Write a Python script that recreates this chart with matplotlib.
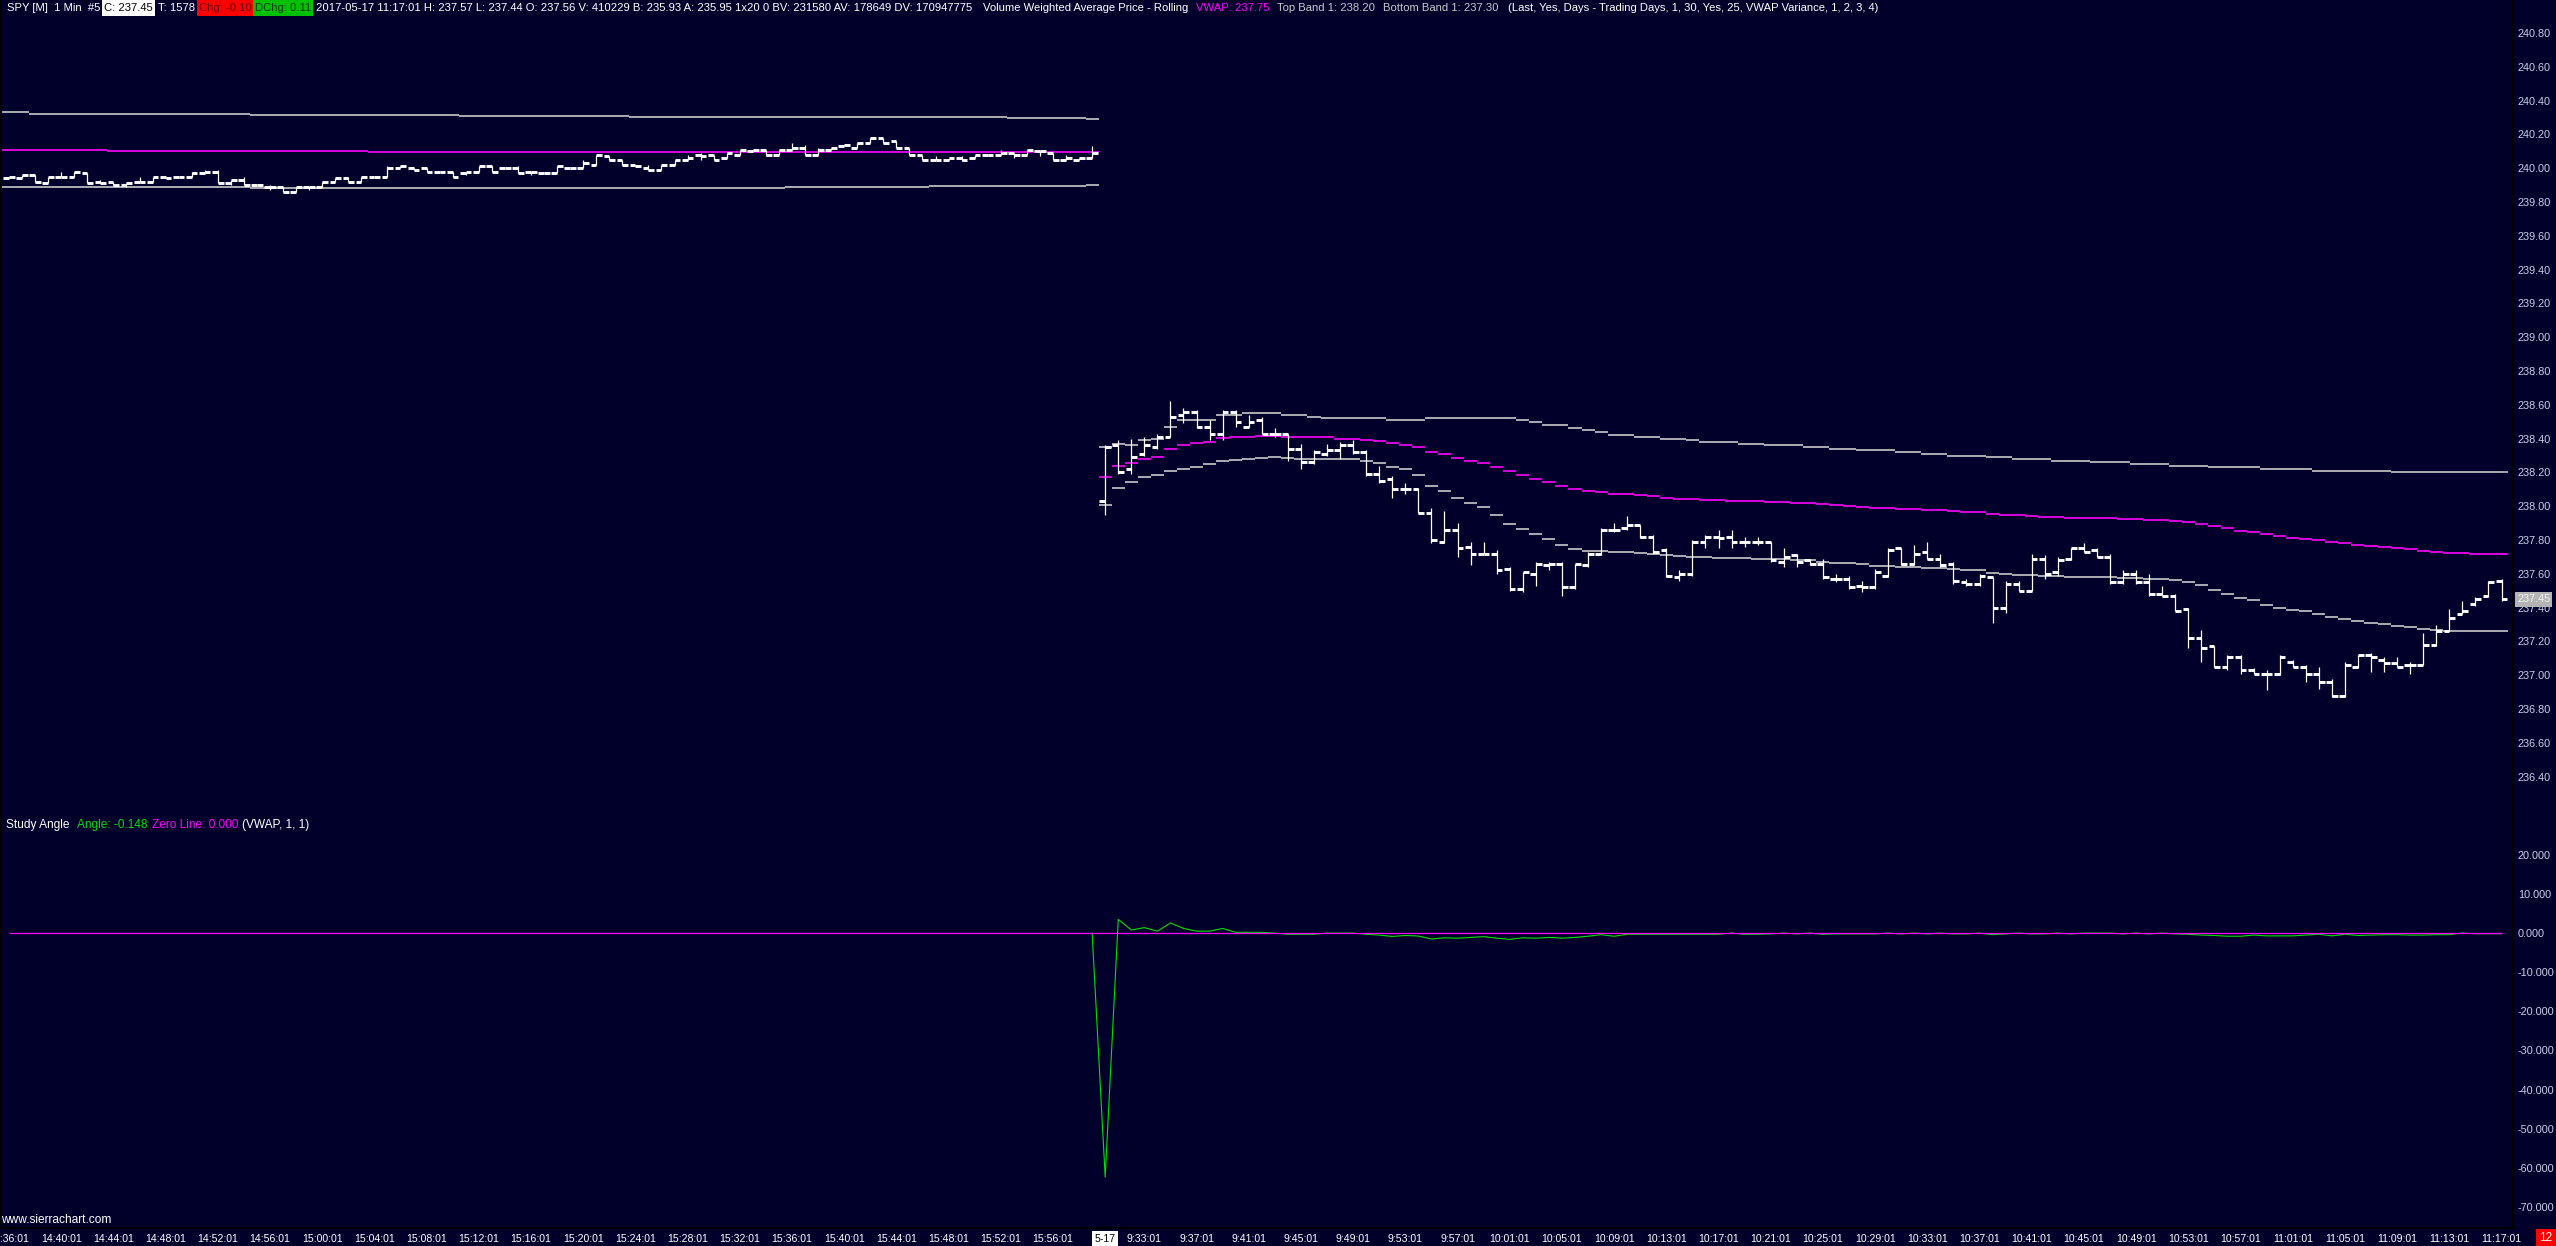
import matplotlib
matplotlib.use("Agg")
import matplotlib.pyplot as plt
from matplotlib.collections import LineCollection
from matplotlib.patches import Rectangle
from matplotlib.transforms import blended_transform_factory
import numpy as np

# SPY 1 min bars, 2017-05-16 14:36 .. 15:59
prev_open = [239.94, 239.94, 239.96, 239.91, 239.95, 239.95, 239.97, 239.92, 239.92, 239.90, 239.92, 239.92,
             239.95, 239.95, 239.95, 239.97, 239.98, 239.91, 239.93, 239.90, 239.89, 239.89, 239.86, 239.89,
             239.89, 239.92, 239.94, 239.92, 239.95, 239.95, 240.00, 240.00, 240.00, 239.98, 239.98, 239.97,
             239.98, 240.01, 240.00, 240.00, 239.98, 239.97, 239.97, 240.00, 240.00, 240.02, 240.07, 240.05,
             240.02, 240.00, 239.99, 240.02, 240.05, 240.08, 240.08, 240.06, 240.08, 240.10, 240.11, 240.08,
             240.11, 240.12, 240.08, 240.11, 240.13, 240.12, 240.15, 240.18, 240.16, 240.12, 240.08, 240.05,
             240.05, 240.06, 240.06, 240.08, 240.08, 240.09, 240.08, 240.10, 240.09, 240.05, 240.05, 240.06]
prev_high = [239.95, 239.96, 239.96, 239.95, 239.98, 239.98, 239.97, 239.93, 239.92, 239.91, 239.95, 239.95,
             239.95, 239.95, 239.98, 239.99, 239.99, 239.93, 239.95, 239.90, 239.90, 239.89, 239.89, 239.89,
             239.92, 239.94, 239.95, 239.95, 239.95, 240.01, 240.01, 240.00, 240.00, 239.98, 239.98, 239.98,
             240.01, 240.01, 240.00, 240.01, 239.98, 239.97, 240.01, 240.00, 240.05, 240.08, 240.07, 240.05,
             240.02, 240.02, 240.02, 240.05, 240.08, 240.09, 240.08, 240.09, 240.11, 240.11, 240.11, 240.11,
             240.15, 240.14, 240.12, 240.12, 240.14, 240.15, 240.18, 240.18, 240.16, 240.12, 240.08, 240.07,
             240.06, 240.07, 240.08, 240.08, 240.11, 240.09, 240.11, 240.10, 240.09, 240.08, 240.06, 240.13]
prev_low = [239.94, 239.94, 239.92, 239.91, 239.95, 239.95, 239.91, 239.91, 239.90, 239.89, 239.92, 239.92,
            239.94, 239.95, 239.95, 239.97, 239.91, 239.90, 239.90, 239.90, 239.87, 239.86, 239.86, 239.87,
            239.89, 239.92, 239.92, 239.92, 239.95, 239.95, 240.00, 239.99, 239.98, 239.98, 239.95, 239.96,
            239.98, 239.98, 240.00, 239.97, 239.96, 239.97, 239.97, 240.00, 240.00, 240.02, 240.05, 240.02,
            240.01, 239.99, 239.99, 240.02, 240.05, 240.05, 240.05, 240.06, 240.08, 240.10, 240.07, 240.08,
            240.11, 240.08, 240.08, 240.11, 240.13, 240.12, 240.15, 240.15, 240.12, 240.08, 240.05, 240.05,
            240.05, 240.04, 240.06, 240.07, 240.08, 240.06, 240.08, 240.07, 240.05, 240.05, 240.05, 240.06]
prev_close = [239.95, 239.96, 239.92, 239.95, 239.95, 239.98, 239.91, 239.91, 239.90, 239.91, 239.92, 239.95,
              239.94, 239.95, 239.97, 239.98, 239.91, 239.93, 239.90, 239.90, 239.89, 239.86, 239.89, 239.89,
              239.92, 239.94, 239.92, 239.95, 239.95, 240.00, 240.01, 239.99, 239.98, 239.98, 239.95, 239.98,
              240.01, 239.98, 240.00, 239.97, 239.98, 239.97, 240.01, 240.00, 240.03, 240.08, 240.05, 240.02,
              240.01, 239.99, 240.02, 240.05, 240.06, 240.07, 240.05, 240.09, 240.11, 240.11, 240.08, 240.11,
              240.12, 240.08, 240.11, 240.12, 240.14, 240.15, 240.18, 240.15, 240.12, 240.08, 240.05, 240.05,
              240.06, 240.05, 240.08, 240.08, 240.09, 240.08, 240.11, 240.10, 240.05, 240.06, 240.06, 240.09]

# 2017-05-17 9:30 .. 11:17
cur_open = [238.03, 238.36, 238.22, 238.31, 238.35, 238.41, 238.54, 238.56, 238.47, 238.43, 238.56, 238.47,
            238.51, 238.43, 238.43, 238.34, 238.26, 238.31, 238.33, 238.36, 238.32, 238.19, 238.16, 238.10,
            238.10, 237.96, 237.79, 237.86, 237.76, 237.72, 237.72, 237.63, 237.51, 237.60, 237.65, 237.66,
            237.52, 237.65, 237.72, 237.86, 237.87, 237.89, 237.82, 237.74, 237.58, 237.60, 237.79, 237.82,
            237.82, 237.79, 237.79, 237.79, 237.67, 237.71, 237.68, 237.66, 237.57, 237.57, 237.53, 237.52,
            237.59, 237.75, 237.66, 237.73, 237.69, 237.66, 237.55, 237.54, 237.58, 237.40, 237.54, 237.50,
            237.69, 237.61, 237.69, 237.75, 237.74, 237.70, 237.55, 237.60, 237.55, 237.48, 237.47, 237.39,
            237.22, 237.17, 237.05, 237.11, 237.03, 237.01, 237.01, 237.08, 237.05, 237.01, 236.96, 236.88,
            237.05, 237.12, 237.09, 237.07, 237.06, 237.06, 237.18, 237.26, 237.36, 237.42, 237.47, 237.56]
cur_high = [238.36, 238.39, 238.40, 238.41, 238.43, 238.62, 238.58, 238.57, 238.51, 238.57, 238.57, 238.54,
            238.53, 238.46, 238.43, 238.37, 238.33, 238.37, 238.38, 238.39, 238.33, 238.24, 238.18, 238.14,
            238.11, 237.99, 237.97, 237.90, 237.79, 237.79, 237.74, 237.64, 237.61, 237.67, 237.67, 237.67,
            237.66, 237.73, 237.87, 237.90, 237.94, 237.89, 237.83, 237.75, 237.62, 237.80, 237.83, 237.86,
            237.86, 237.82, 237.82, 237.79, 237.75, 237.72, 237.69, 237.69, 237.60, 237.59, 237.56, 237.63,
            237.75, 237.75, 237.77, 237.79, 237.72, 237.67, 237.57, 237.60, 237.58, 237.56, 237.56, 237.72,
            237.71, 237.70, 237.75, 237.78, 237.75, 237.72, 237.62, 237.62, 237.60, 237.53, 237.48, 237.40,
            237.27, 237.17, 237.12, 237.12, 237.04, 237.03, 237.12, 237.09, 237.06, 237.05, 236.98, 237.08,
            237.12, 237.13, 237.11, 237.11, 237.08, 237.25, 237.30, 237.39, 237.44, 237.46, 237.56, 237.57]
cur_low = [237.95, 238.19, 238.19, 238.30, 238.34, 238.41, 238.49, 238.46, 238.39, 238.39, 238.47, 238.47,
           238.43, 238.41, 238.27, 238.22, 238.25, 238.30, 238.28, 238.31, 238.18, 238.14, 238.05, 238.07,
           237.96, 237.78, 237.78, 237.70, 237.65, 237.72, 237.60, 237.50, 237.49, 237.53, 237.62, 237.47,
           237.51, 237.64, 237.71, 237.85, 237.86, 237.81, 237.72, 237.58, 237.56, 237.59, 237.75, 237.75,
           237.75, 237.76, 237.77, 237.67, 237.64, 237.64, 237.65, 237.57, 237.55, 237.51, 237.49, 237.51,
           237.58, 237.65, 237.65, 237.69, 237.64, 237.54, 237.53, 237.53, 237.31, 237.37, 237.50, 237.50,
           237.57, 237.59, 237.68, 237.73, 237.70, 237.54, 237.54, 237.54, 237.47, 237.47, 237.38, 237.16,
           237.08, 237.05, 237.03, 237.01, 237.01, 236.91, 237.00, 237.05, 236.96, 236.92, 236.87, 236.87,
           237.04, 237.02, 237.02, 237.05, 237.01, 237.06, 237.17, 237.26, 237.36, 237.41, 237.46, 237.44]
cur_close = [238.35, 238.20, 238.29, 238.36, 238.41, 238.53, 238.56, 238.47, 238.43, 238.56, 238.50, 238.50,
             238.43, 238.43, 238.34, 238.26, 238.32, 238.33, 238.36, 238.32, 238.19, 238.15, 238.10, 238.10,
             237.96, 237.80, 237.86, 237.75, 237.72, 237.72, 237.62, 237.51, 237.61, 237.66, 237.66, 237.52,
             237.66, 237.72, 237.86, 237.86, 237.89, 237.82, 237.73, 237.59, 237.60, 237.79, 237.82, 237.81,
             237.79, 237.79, 237.79, 237.68, 237.70, 237.67, 237.66, 237.58, 237.57, 237.52, 237.52, 237.61,
             237.74, 237.66, 237.72, 237.69, 237.65, 237.56, 237.54, 237.59, 237.40, 237.54, 237.50, 237.69,
             237.60, 237.68, 237.75, 237.73, 237.70, 237.55, 237.60, 237.55, 237.48, 237.47, 237.38, 237.22,
             237.16, 237.05, 237.11, 237.03, 237.01, 237.01, 237.11, 237.05, 237.01, 236.96, 236.88, 237.06,
             237.12, 237.11, 237.07, 237.05, 237.06, 237.18, 237.26, 237.34, 237.38, 237.45, 237.55, 237.45]

# rolling VWAP and bands, one value per bar
prev_top = [240.33] * 2 + [240.32] * 17 + [240.315] * 16 + [240.31] * 13 + [240.305] * 17 + [240.30] * 12 + [240.295] * 6 + [240.29]
prev_vwap = [240.11] * 8 + [240.10] * 20 + [240.095] * 56
prev_bot = [239.89] * 19 + [239.883] * 41 + [239.889] * 11 + [239.895] * 12 + [239.90]

cur_top = [238.35, 238.37, 238.36, 238.39, 238.40, 238.47, 238.51, 238.51, 238.51, 238.54, 238.54, 238.55,
           238.55, 238.55, 238.54, 238.54, 238.53, 238.52, 238.52, 238.52, 238.52, 238.52, 238.51, 238.51,
           238.51, 238.52, 238.52, 238.52, 238.52, 238.52, 238.52, 238.52, 238.51, 238.50, 238.48, 238.48,
           238.46, 238.45, 238.44, 238.42, 238.42, 238.41, 238.41, 238.40, 238.40, 238.39, 238.38, 238.38,
           238.38, 238.37, 238.37, 238.36, 238.36, 238.36, 238.35, 238.35, 238.34, 238.34, 238.33, 238.33,
           238.33, 238.32, 238.32, 238.31, 238.31, 238.30, 238.30, 238.30, 238.29, 238.29, 238.28, 238.28,
           238.28, 238.27, 238.27, 238.27, 238.26, 238.26, 238.26, 238.25, 238.25, 238.25, 238.24, 238.24,
           238.24, 238.23, 238.23, 238.23, 238.23, 238.22, 238.22, 238.22, 238.22, 238.21, 238.21, 238.21,
           238.21, 238.21, 238.21, 238.20, 238.20, 238.20, 238.20, 238.20, 238.20, 238.20, 238.20, 238.20]
cur_vwap = [238.175, 238.238, 238.258, 238.282, 238.293, 238.341, 238.365, 238.376, 238.382, 238.406, 238.412, 238.412,
            238.418, 238.418, 238.408, 238.408, 238.408, 238.408, 238.400, 238.400, 238.394, 238.388, 238.372, 238.365,
            238.353, 238.323, 238.311, 238.288, 238.270, 238.258, 238.234, 238.211, 238.187, 238.163, 238.146, 238.122,
            238.104, 238.092, 238.084, 238.075, 238.075, 238.069, 238.059, 238.051, 238.045, 238.041, 238.039, 238.039,
            238.033, 238.033, 238.033, 238.027, 238.027, 238.021, 238.021, 238.013, 238.007, 238.001, 237.996, 237.990,
            237.990, 237.984, 237.984, 237.978, 237.978, 237.972, 237.966, 237.966, 237.954, 237.948, 237.948, 237.942,
            237.936, 237.936, 237.930, 237.930, 237.930, 237.930, 237.925, 237.925, 237.919, 237.919, 237.913, 237.905,
            237.895, 237.885, 237.871, 237.856, 237.848, 237.836, 237.824, 237.812, 237.804, 237.800, 237.788, 237.783,
            237.773, 237.765, 237.759, 237.753, 237.745, 237.737, 237.731, 237.725, 237.725, 237.720, 237.720, 237.720]
cur_bot = [238.010, 238.110, 238.146, 238.175, 238.187, 238.211, 238.223, 238.234, 238.252, 238.270, 238.276, 238.282,
           238.288, 238.293, 238.288, 238.282, 238.282, 238.282, 238.282, 238.282, 238.270, 238.258, 238.234, 238.223,
           238.187, 238.122, 238.092, 238.051, 238.021, 237.998, 237.950, 237.897, 237.868, 237.838, 237.808, 237.773,
           237.749, 237.737, 237.737, 237.731, 237.731, 237.725, 237.720, 237.714, 237.708, 237.702, 237.702, 237.696,
           237.696, 237.696, 237.690, 237.690, 237.690, 237.682, 237.682, 237.670, 237.664, 237.664, 237.656, 237.648,
           237.648, 237.643, 237.643, 237.637, 237.637, 237.629, 237.623, 237.623, 237.607, 237.601, 237.595, 237.595,
           237.589, 237.589, 237.583, 237.583, 237.583, 237.583, 237.577, 237.577, 237.572, 237.572, 237.566, 237.554,
           237.536, 237.506, 237.483, 237.459, 237.447, 237.418, 237.400, 237.388, 237.382, 237.364, 237.347, 237.335,
           237.323, 237.311, 237.305, 237.293, 237.287, 237.276, 237.270, 237.264, 237.264, 237.260, 237.260, 237.260]

# Study Angle of the VWAP, from the last bar of 5-16 on
angle_first_bar = 83
angle = [0.0, -62.4, 3.5, 0.8, 1.4, 0.5, 2.6, 1.2, 0.5, 0.5, 1.2, 0.2,
         0.2, 0.2, 0.0, -0.3, -0.3, -0.3, 0.0, 0.0, 0.0, -0.3, -0.5, -0.85,
         -0.6, -0.75, -1.5, -1.2, -1.3, -1.1, -0.9, -1.3, -1.6, -1.2, -1.3, -1.1,
         -1.3, -1.1, -0.8, -0.4, -0.8, -0.3, -0.3, -0.3, -0.3, -0.3, -0.3, -0.3,
         -0.3, 0.0, -0.3, -0.3, -0.2, 0.0, -0.2, 0.0, -0.3, -0.2, -0.2, -0.2,
         -0.2, 0.0, -0.2, 0.0, -0.2, 0.0, -0.2, -0.2, 0.0, -0.4, -0.2, 0.0,
         -0.2, -0.2, 0.0, -0.2, 0.0, 0.0, 0.0, -0.2, 0.0, -0.2, 0.0, -0.2,
         -0.3, -0.5, -0.6, -0.8, -0.8, -0.5, -0.7, -0.7, -0.7, -0.5, -0.3, -0.7,
         -0.3, -0.6, -0.5, -0.4, -0.4, -0.5, -0.5, -0.4, -0.4, 0.0, -0.15, -0.15,
         -0.148]

time_labels = ["14:36:01", "14:40:01", "14:44:01", "14:48:01", "14:52:01", "14:56:01", "15:00:01",
               "15:04:01", "15:08:01", "15:12:01", "15:16:01", "15:20:01", "15:24:01", "15:28:01",
               "15:32:01", "15:36:01", "15:40:01", "15:44:01", "15:48:01", "15:52:01", "15:56:01",
               "5-17",
               "9:33:01", "9:37:01", "9:41:01", "9:45:01", "9:49:01", "9:53:01", "9:57:01",
               "10:01:01", "10:05:01", "10:09:01", "10:13:01", "10:17:01", "10:21:01", "10:25:01",
               "10:29:01", "10:33:01", "10:37:01", "10:41:01", "10:45:01", "10:49:01", "10:53:01",
               "10:57:01", "11:01:01", "11:05:01", "11:09:01", "11:13:01", "11:17:01"]
label_bars = list(range(0, 84, 4)) + [84] + list(range(87, 192, 4))

price_ticks = np.round(np.arange(236.40, 240.81, 0.20), 2)
angle_ticks = [20, 10, 0, -10, -20, -30, -40, -50, -60, -70]

opn = np.array(prev_open + cur_open)
hig = np.array(prev_high + cur_high)
low = np.array(prev_low + cur_low)
cls = np.array(prev_close + cur_close)
top_band = np.array(prev_top + cur_top)
vwap = np.array(prev_vwap + cur_vwap)
bot_band = np.array(prev_bot + cur_bot)
idx = np.arange(len(opn))

BG = "#00002a"
WHITE = "#ffffff"
GREY = "#c8c8c8"
MAG = "#ff00ff"
GREEN = "#00e000"
AXTXT = "#c8d0e8"

W, H = 2556, 1246
PR = 2513          # right edge of the chart area, px
P_BOT = 815        # bottom of price region, px
S_BOT = 1228       # bottom of study region, px

plt.rcParams['font.family'] = ['Liberation Sans', 'DejaVu Sans']
plt.rcParams['axes.unicode_minus'] = False

fig = plt.figure(figsize=(W / 100, H / 100), dpi=100, facecolor=BG)
ax = fig.add_axes([0, 1 - P_BOT / H, PR / W, P_BOT / H])
ax2 = fig.add_axes([0, 1 - S_BOT / H, PR / W, (S_BOT - P_BOT) / H])

for a in (ax, ax2):
    a.set_facecolor(BG)
    a.set_xlim(-0.69, 191.88)
    for s in a.spines.values():
        s.set_color("black")
        s.set_linewidth(1.5)
    a.spines['top'].set_visible(False)
    a.set_xticks([])
    a.yaxis.tick_right()
    a.tick_params(axis='y', length=0, pad=3.6, labelsize=7.8, labelcolor=AXTXT)
ax.spines['bottom'].set_visible(False)

# price region
ax.set_ylim(236.173, 240.995)
ax.set_yticks(price_ticks)
ax.set_yticklabels(["%.2f" % v for v in price_ticks])

ax.hlines(top_band, idx - 0.5, idx + 0.5, color=GREY, lw=1.2, zorder=2)
ax.hlines(bot_band, idx - 0.5, idx + 0.5, color=GREY, lw=1.2, zorder=2)
ax.hlines(vwap, idx - 0.5, idx + 0.5, color=MAG, lw=1.2, zorder=2)

wicks = [[(i, lo), (i, hi)] for i, lo, hi in zip(idx, low, hig)]
ticks = [[(i - 0.44, o), (i, o)] for i, o in zip(idx, opn)] + \
        [[(i, c), (i + 0.44, c)] for i, c in zip(idx, cls)]
ax.add_collection(LineCollection(wicks, colors=WHITE, linewidths=0.9, zorder=3))
ax.add_collection(LineCollection(ticks, colors=WHITE, linewidths=2.1, capstyle='butt', zorder=3))

# study region
ax2.set_ylim(-75.4, 30.2)
ax2.set_yticks(angle_ticks)
ax2.set_yticklabels(["%.3f" % v for v in angle_ticks])
ax2.plot(np.arange(angle_first_bar, angle_first_bar + len(angle)), angle, color=GREEN, lw=0.8, zorder=2)
ax2.hlines(0, idx[0], idx[-1], color=MAG, lw=0.9, zorder=3)

# ---------- texts ----------
renderer = fig.canvas.get_renderer()


def ftext(x, y, s, color, size=8.1, ha='left', **kw):
    t = fig.text(x / W, 1 - y / H, s, color=color, fontsize=size, ha=ha, va='center', **kw)
    return t, t.get_window_extent(renderer).width


def box(x0, y0, x1, y1, color):
    fig.add_artist(Rectangle((x0 / W, 1 - y1 / H), (x1 - x0) / W, (y1 - y0) / H,
                             transform=fig.transFigure, fc=color, ec='none', zorder=1))


# header line: (text, colour, box colour, gap after)
HY = 8
header = [("SPY [M]  1 Min  #5", WHITE, None, 4),
          ("C: 237.45", "black", WHITE, 5),
          ("T: 1578", WHITE, None, 4),
          ("Chg: -0.10", "#700000", "#ff0000", 3),
          ("DChg: 0.11", "#004000", "#00c000", 5),
          ("2017-05-17 11:17:01 H: 237.57 L: 237.44 O: 237.56 V: 410229 B: 235.93 A: 235.95 1x20 0 "
           "BV: 231580 AV: 178649 DV: 170947775", WHITE, None, 10),
          ("Volume Weighted Average Price - Rolling", WHITE, None, 8),
          ("VWAP: 237.75", MAG, None, 8),
          ("Top Band 1: 238.20", GREY, None, 8),
          ("Bottom Band 1: 237.30", GREY, None, 9),
          ("(Last, Yes, Days - Trading Days, 1, 30, Yes, 25, VWAP Variance, 1, 2, 3, 4)", WHITE, None, 0)]
x = 7
for s, c, bg, gap in header:
    t, w = ftext(x, HY, s, c)
    if bg:
        box(x - 2, 0, x + w + 2, 16, bg)
    x += w + gap

SY = 825
ftext(6, SY, "Study Angle", WHITE, 8.6)
ftext(77, SY, "Angle: -0.148", GREEN, 8.6)
ftext(152, SY, "Zero Line: 0.000", MAG, 8.6)
ftext(242, SY, "(VWAP, 1, 1)", WHITE, 8.6)

ftext(1, 1220, "www.sierrachart.com", WHITE, 8.6)

# time scale
tr = blended_transform_factory(ax2.transData, fig.transFigure)
for b, s in zip(label_bars, time_labels):
    if s == "5-17":
        ax2.text(b, 1 - 1239 / H, s, transform=tr, color="black", fontsize=7.6, ha='center', va='center',
                 clip_on=False, bbox=dict(boxstyle='square,pad=0.25', fc=WHITE, ec='none'))
    else:
        ax2.text(b, 1 - 1239 / H, s, transform=tr, color=WHITE, fontsize=7.6, ha='center', va='center',
                 clip_on=False)

# last price marker
ylast = ax.transData.transform((0, cls[-1]))[1]
yl = H - ylast
box(2515, yl - 7.5, 2552, yl + 7.5, "#b4b4b4")
ftext(2517, yl, "%.2f" % cls[-1], "#f4f4f4", 7.8)

box(2536, 1229, 2556, 1246, "#ff0000")
ftext(2546, 1238, "12", WHITE, 8.6, ha='center')

fig.savefig("out.png", dpi=100, facecolor=BG)
